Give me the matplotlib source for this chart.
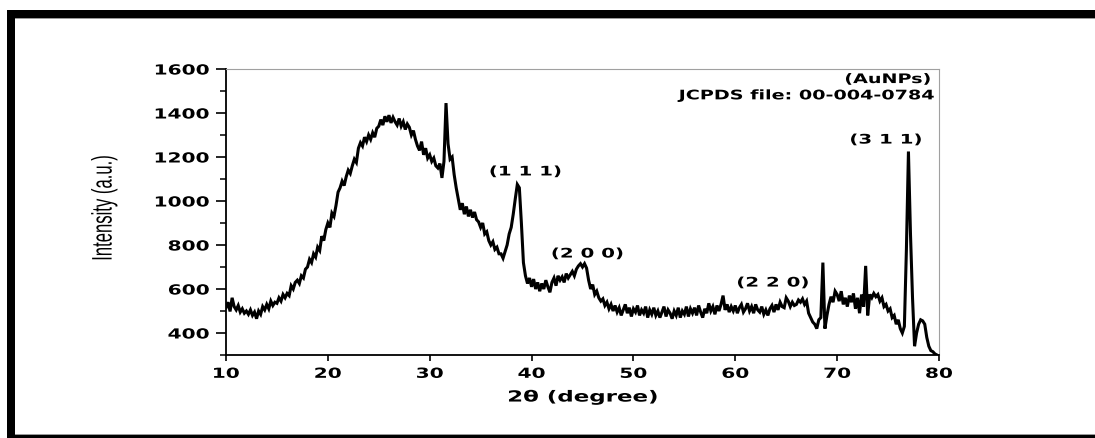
import numpy as np
import matplotlib
matplotlib.use("Agg")
import matplotlib.pyplot as plt
from matplotlib.patheffects import AbstractPathEffect
from matplotlib.transforms import Affine2D
from matplotlib.patches import Rectangle

# ---------------- data ----------------
two_theta_start = 10.0
two_theta_step = 0.2

intensity_10_30 = [
    515, 540, 498, 560, 520,    # 10
    505, 525, 495, 510, 490,    # 11
    500, 485, 505, 480, 495,    # 12
    465, 500, 485, 520, 505,    # 13
    530, 510, 545, 525, 540,    # 14
    535, 560, 545, 575, 560,    # 15
    580, 570, 615, 600, 630,    # 16
    640, 625, 660, 650, 690,    # 17
    700, 735, 720, 760, 745,    # 18
    790, 775, 840, 820, 870,    # 19
    900, 880, 945, 930, 980,    # 20
    1040, 1060, 1090, 1070, 1110,  # 21
    1140, 1125, 1160, 1190, 1175,  # 22
    1240, 1265, 1250, 1290, 1270,  # 23
    1300, 1280, 1310, 1290, 1330,  # 24
    1340, 1370, 1345, 1385, 1360,  # 25
    1390, 1355, 1380, 1360, 1345,  # 26
    1375, 1340, 1360, 1325, 1350,  # 27
    1335, 1300, 1320, 1280, 1250,  # 28
    1230, 1270, 1210, 1240, 1195,  # 29
]
intensity_30_50 = [
    1210, 1180, 1195, 1160, 1150,  # 30
    1170, 1105, 1180, 1445, 1260,  # 31
    1190, 1200, 1120, 1060, 1010,  # 32
    960, 990, 940, 975, 930,    # 33
    960, 925, 950, 915, 905,    # 34
    880, 900, 850, 860, 820,    # 35
    800, 815, 780, 790, 760,    # 36
    760, 740, 770, 800, 850,    # 37
    880, 940, 1010, 1075, 1060,  # 38
    900, 720, 660, 625, 650,    # 39
    610, 645, 600, 630, 590,    # 40
    625, 600, 640, 610, 585,    # 41
    630, 650, 615, 660, 640,    # 42
    655, 630, 670, 650, 665,    # 43
    680, 660, 690, 705, 715,    # 44
    700, 715, 695, 640, 600,    # 45
    620, 575, 590, 560, 545,    # 46
    555, 525, 540, 510, 530,    # 47
    500, 525, 495, 515, 480,    # 48
    505, 530, 490, 515, 475,    # 49
]
intensity_50_80 = [
    510, 495, 525, 480, 505,    # 50
    490, 520, 470, 505, 485,    # 51
    515, 480, 500, 470, 495,    # 52
    520, 475, 505, 490, 465,    # 53
    500, 480, 515, 470, 500,    # 54
    485, 520, 475, 510, 490,    # 55
    515, 480, 525, 495, 470,    # 56
    510, 490, 535, 500, 520,    # 57
    485, 525, 500, 530, 570,    # 58
    505, 530, 495, 520, 500,    # 59
    525, 490, 515, 530, 495,    # 60
    510, 535, 500, 520, 490,    # 61
    530, 505, 495, 520, 485,    # 62
    505, 480, 510, 525, 495,    # 63
    530, 505, 540, 520, 515,    # 64
    560, 545, 520, 540, 525,    # 65
    530, 550, 540, 555, 530,    # 66
    545, 490, 470, 450, 440,    # 67
    420, 460, 470, 720, 420,    # 68
    480, 530, 565, 540, 590,    # 69
    575, 545, 590, 530, 560,    # 70
    520, 570, 540, 580, 510,    # 71
    560, 490, 575, 520, 705,    # 72
    480, 575, 560, 580, 565,    # 73
    575, 545, 560, 520, 530,    # 74
    500, 510, 470, 480, 440,    # 75
    460, 420, 400, 430, 780,    # 76
    1225, 850, 560, 340, 400,   # 77
    440, 460, 455, 440, 380,    # 78
    340, 320, 315, 305, 300,    # 79
    290,                        # 80
]

peak_labels = ["(1 1 1)", "(2 0 0)", "(2 2 0)", "(3 1 1)"]
peak_label_x = [39.4, 45.5, 63.7, 74.8]
peak_label_y = [1132, 759, 627, 1277]

sample_label = "(AuNPs)"
jcpds_label = "JCPDS file: 00-004-0784"

x_ticks = [10, 20, 30, 40, 50, 60, 70, 80]
y_ticks = [400, 600, 800, 1000, 1200, 1400, 1600]
y_minor_ticks = [300, 500, 700, 900, 1100, 1300, 1500]

intensity = np.array(intensity_10_30 + intensity_30_50 + intensity_50_80, dtype=float)
two_theta = two_theta_start + two_theta_step * np.arange(len(intensity))


# ---------------- horizontal stretch for text (reference is stretched) ----------------
class HStretch(AbstractPathEffect):
    def __init__(self, sx=1.6, anchor=0.5):
        super().__init__()
        self.sx = sx
        self.anchor = anchor

    def draw_path(self, renderer, gc, tpath, affine, rgbFace=None):
        ext = affine.transform_path(tpath).get_extents()
        ax0 = ext.x0 + self.anchor * (ext.x1 - ext.x0)
        t = affine + Affine2D().translate(-ax0, 0).scale(self.sx, 1.0).translate(ax0, 0)
        renderer.draw_path(gc, tpath, t, rgbFace)


BOLD = "DejaVu Sans"

fig = plt.figure(figsize=(10.95, 4.38), dpi=100)
fig.patch.set_facecolor("white")

# outer frame (black bars on top, left and bottom)
W, H = 1095.0, 438.0
def fig_rect(x0, y0, x1, y1, color):
    fig.add_artist(Rectangle((x0 / W, 1 - y1 / H), (x1 - x0) / W, (y1 - y0) / H,
                             transform=fig.transFigure, facecolor=color,
                             edgecolor="none", zorder=10))
fig_rect(7, 10, 1095, 17.5, "black")
fig_rect(7, 17.5, 1095, 18.5, "#9a9a9a")
fig_rect(7, 10, 15, 438, "black")
fig_rect(7, 434.5, 1095, 438, "black")
fig_rect(15, 433.5, 1095, 434.5, "#9a9a9a")

ax = fig.add_axes([226 / W, 1 - 355 / H, (939 - 226) / W, (355 - 69) / H])
ax.plot(two_theta, intensity, color="black", lw=2.2, solid_joinstyle="miter")

ax.set_xlim(10, 80)
ax.set_ylim(300, 1600)
ax.set_xticks(x_ticks)
ax.set_yticks(y_ticks)
ax.set_yticks(y_minor_ticks, minor=True)

for side in ["left", "bottom"]:
    ax.spines[side].set_linewidth(1.3)
    ax.spines[side].set_color("black")
for side in ["top", "right"]:
    ax.spines[side].set_linewidth(0.8)
    ax.spines[side].set_color("#a0a0a0")

ax.tick_params(axis="y", which="major", direction="out", length=7, width=1.2, pad=5,
               labelsize=10, colors="black")
ax.tick_params(axis="y", which="minor", direction="out", length=4, width=1.1)
ax.tick_params(axis="x", which="major", direction="out", length=4, width=1.2, pad=4.5,
               labelsize=10, colors="black")
ax.tick_params(top=False, right=False)

for lab in ax.get_xticklabels():
    lab.set_fontweight("bold")
    lab.set_fontfamily(BOLD)
    lab.set_path_effects([HStretch(1.45, 0.5)])
for lab in ax.get_yticklabels():
    lab.set_fontweight("bold")
    lab.set_fontfamily(BOLD)
    lab.set_path_effects([HStretch(1.45, 1.0)])

ax.set_xlabel("2θ (degree)", fontsize=11, fontweight="bold", family=BOLD,
              path_effects=[HStretch(1.5, 0.5)])
ax.xaxis.set_label_coords(0.5, -0.147)
ax.xaxis.label.set_verticalalignment("center")

ax.set_ylabel("Intensity (a.u.)", fontsize=12, family="Liberation Sans",
              path_effects=[HStretch(1.7, 0.5)])
ax.yaxis.set_label_coords(-0.171, 0.514)
ax.yaxis.label.set_verticalalignment("center")

for lbl, px, py in zip(peak_labels, peak_label_x, peak_label_y):
    ax.text(px, py, lbl, fontsize=9.5, fontweight="bold", family=BOLD,
            ha="center", va="center", path_effects=[HStretch(1.5, 0.5)])

ax.text(75.0, 1552, sample_label, fontsize=9.5, fontweight="bold", family=BOLD,
        ha="center", va="center", path_effects=[HStretch(1.45, 0.5)])
ax.text(79.7, 1478, jcpds_label, fontsize=9.5, fontweight="bold", family=BOLD,
        ha="right", va="center", path_effects=[HStretch(1.45, 1.0)])

fig.savefig("out.png", dpi=100, facecolor="white")
